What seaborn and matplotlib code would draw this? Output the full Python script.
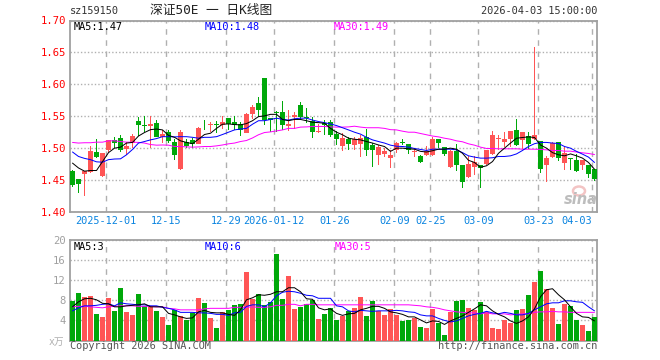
import numpy as np
import pandas as pd
import seaborn as sns
import matplotlib.pyplot as plt
from matplotlib.patches import Ellipse

opens = [1.4646, 1.452, 1.460, 1.4625, 1.494, 1.4568, 1.497, 1.513, 1.516, 1.499,
         1.508, 1.543, 1.537, 1.535, 1.5396, 1.5177, 1.5255, 1.51, 1.4677, 1.51,
         1.513, 1.5068, 1.535, 1.536, 1.538, 1.536, 1.5474, 1.541, 1.538, 1.524,
         1.5536, 1.5708, 1.61, 1.5469, 1.5565, 1.5567, 1.535, 1.5495, 1.5677, 1.5485,
         1.542, 1.525, 1.54, 1.541, 1.5224, 1.5036, 1.5146, 1.505, 1.5068, 1.5177,
         1.505, 1.4896, 1.491, 1.485, 1.4974, 1.5094, 1.5068, 1.4937, 1.488, 1.4896,
         1.4896, 1.5146, 1.502, 1.4708, 1.4958, 1.474, 1.455, 1.471, 1.474, 1.4755,
         1.491, 1.5146, 1.51, 1.5146, 1.5286, 1.513, 1.519, 1.5146, 1.5115, 1.474,
         1.4865, 1.51, 1.477, 1.484, 1.482, 1.474, 1.473, 1.4677]
closes = [1.4427, 1.444, 1.4646, 1.496, 1.4865, 1.4927, 1.513, 1.508, 1.497, 1.5036,
          1.519, 1.536, 1.535, 1.538, 1.5177, 1.5224, 1.5115, 1.4896, 1.5255, 1.5036,
          1.5068, 1.5318, 1.534, 1.538, 1.536, 1.541, 1.5375, 1.536, 1.5286, 1.5536,
          1.5646, 1.56, 1.544, 1.5443, 1.5555, 1.5365, 1.538, 1.5516, 1.549, 1.547,
          1.5255, 1.527, 1.5365, 1.521, 1.5146, 1.516, 1.5068, 1.5146, 1.516, 1.4974,
          1.4974, 1.502, 1.4958, 1.4896, 1.508, 1.5088, 1.4964, 1.4945, 1.4786, 1.4958,
          1.5146, 1.5083, 1.491, 1.4958, 1.474, 1.447, 1.4755, 1.4786, 1.4688, 1.4974,
          1.521, 1.5156, 1.5146, 1.527, 1.505, 1.5255, 1.5068, 1.521, 1.468, 1.485,
          1.508, 1.485, 1.4927, 1.4835, 1.4646, 1.482, 1.46, 1.452]
highs = [1.466, 1.452, 1.465, 1.5036, 1.5146, 1.493, 1.5135, 1.517, 1.521, 1.51,
         1.522, 1.5495, 1.55, 1.55, 1.544, 1.5286, 1.5286, 1.5146, 1.5286, 1.5146,
         1.5156, 1.533, 1.544, 1.541, 1.543, 1.5505, 1.5474, 1.55, 1.541, 1.5547,
         1.568, 1.5807, 1.61, 1.547, 1.559, 1.574, 1.56, 1.557, 1.572, 1.563,
         1.5484, 1.5375, 1.544, 1.544, 1.527, 1.5234, 1.518, 1.518, 1.521, 1.53,
         1.508, 1.505, 1.5005, 1.497, 1.5104, 1.515, 1.5068, 1.50, 1.49, 1.5036,
         1.518, 1.5146, 1.502, 1.4974, 1.507, 1.474, 1.487, 1.487, 1.474, 1.4974,
         1.527, 1.521, 1.5255, 1.527, 1.546, 1.5255, 1.5255, 1.658, 1.5115, 1.488,
         1.51, 1.51, 1.502, 1.485, 1.491, 1.482, 1.473, 1.4677]
lows = [1.439, 1.430, 1.4245, 1.4615, 1.485, 1.455, 1.494, 1.50, 1.494, 1.49,
        1.50, 1.519, 1.526, 1.50, 1.5177, 1.508, 1.508, 1.482, 1.466, 1.50,
        1.50, 1.506, 1.5286, 1.5255, 1.5234, 1.53, 1.5286, 1.5286, 1.519, 1.5234,
        1.546, 1.5495, 1.5365, 1.525, 1.526, 1.5286, 1.5276, 1.53, 1.545, 1.54,
        1.516, 1.5234, 1.521, 1.517, 1.505, 1.496, 1.497, 1.497, 1.4865, 1.488,
        1.471, 1.474, 1.4865, 1.469, 1.4927, 1.505, 1.491, 1.4865, 1.4766, 1.488,
        1.488, 1.50, 1.487, 1.469, 1.4646, 1.438, 1.4536, 1.458, 1.438, 1.474,
        1.4896, 1.4974, 1.5026, 1.5026, 1.5036, 1.499, 1.499, 1.513, 1.4615, 1.4474,
        1.485, 1.48, 1.466, 1.466, 1.463, 1.466, 1.4536, 1.449]

ma5 = [1.4766, 1.469, 1.464, 1.465, 1.465, 1.479, 1.493, 1.50, 1.5016, 1.508,
       1.509, 1.519, 1.5245, 1.529, 1.53, 1.5286, 1.52, 1.517, 1.5115, 1.509,
       1.507, 1.514, 1.5214, 1.5234, 1.531, 1.5375, 1.538, 1.537, 1.5365, 1.5385,
       1.543, 1.5495, 1.5505, 1.553, 1.553, 1.545, 1.543, 1.545, 1.545, 1.543,
       1.5406, 1.54, 1.539, 1.531, 1.525, 1.521, 1.5156, 1.514, 1.513, 1.5104,
       1.508, 1.505, 1.5026, 1.495, 1.50, 1.50, 1.499, 1.4984, 1.495, 1.494,
       1.496, 1.4984, 1.4984, 1.50, 1.4984, 1.492, 1.481, 1.4776, 1.47, 1.4724,
       1.479, 1.492, 1.50, 1.508, 1.5156, 1.5167, 1.5177, 1.5167, 1.505, 1.50,
       1.493, 1.4896, 1.488, 1.491, 1.488, 1.4844, 1.4776, 1.467]
ma10 = [1.494, 1.487, 1.484, 1.482, 1.4786, 1.478, 1.482, 1.483, 1.4833, 1.4896,
        1.498, 1.508, 1.5104, 1.513, 1.515, 1.518, 1.518, 1.5177, 1.518, 1.518,
        1.517, 1.5156, 1.517, 1.517, 1.518, 1.5214, 1.525, 1.5286, 1.53, 1.531,
        1.5375, 1.543, 1.543, 1.545, 1.547, 1.545, 1.544, 1.546, 1.547, 1.547,
        1.544, 1.5417, 1.54, 1.538, 1.5354, 1.532, 1.5286, 1.525, 1.522, 1.517,
        1.513, 1.5104, 1.508, 1.5047, 1.503, 1.5026, 1.5016, 1.4995, 1.498, 1.4964,
        1.4984, 1.4984, 1.4984, 1.4984, 1.4974, 1.493, 1.488, 1.486, 1.4844, 1.4844,
        1.485, 1.487, 1.487, 1.488, 1.491, 1.4964, 1.5026, 1.507, 1.509, 1.509,
        1.508, 1.5073, 1.5026, 1.50, 1.495, 1.4906, 1.486, 1.4776]
ma30 = [1.509, 1.508, 1.5085, 1.5085, 1.5094, 1.5094, 1.5115, 1.5115, 1.5104, 1.5094,
        1.5094, 1.509, 1.508, 1.5057, 1.5047, 1.505, 1.5047, 1.5026, 1.5026, 1.502,
        1.5016, 1.502, 1.5026, 1.5026, 1.5036, 1.505, 1.5068, 1.508, 1.5104, 1.512,
        1.516, 1.521, 1.5245, 1.5255, 1.527, 1.5286, 1.531, 1.531, 1.533, 1.5333,
        1.534, 1.534, 1.534, 1.5333, 1.533, 1.533, 1.5333, 1.5344, 1.533, 1.532,
        1.532, 1.532, 1.531, 1.529, 1.5286, 1.5266, 1.525, 1.525, 1.523, 1.521,
        1.519, 1.5177, 1.5156, 1.514, 1.5115, 1.51, 1.5068, 1.5047, 1.5016, 1.4995,
        1.4995, 1.499, 1.499, 1.499, 1.499, 1.4984, 1.4984, 1.4984, 1.498, 1.4974,
        1.4964, 1.4964, 1.4953, 1.4953, 1.494, 1.4927, 1.4917, 1.49]

volume = [7.9, 9.5, 8.7, 8.9, 5.3, 4.7, 8.5, 5.9, 10.5, 5.7,
          5.1, 9.3, 6.9, 6.7, 5.9, 4.7, 3.1, 6.1, 4.9, 4.1,
          5.5, 8.5, 7.5, 4.5, 2.5, 5.7, 6.1, 7.1, 7.3, 13.7,
          8.3, 9.3, 7.1, 7.7, 17.3, 8.3, 12.9, 6.3, 6.7, 7.2,
          8.1, 4.3, 5.3, 6.5, 4.1, 4.9, 5.9, 6.5, 8.7, 4.9,
          7.9, 5.9, 5.1, 6.3, 5.1, 3.9, 4.1, 4.5, 2.7, 2.5,
          6.3, 3.5, 1.1, 5.7, 7.9, 8.1, 6.5, 6.1, 7.7, 5.7,
          2.5, 2.3, 4.1, 3.5, 6.1, 6.3, 9.1, 11.7, 13.9, 10.3,
          6.5, 3.3, 7.3, 6.9, 4.1, 3.1, 1.9, 4.7]
vol_ma5 = [6.7, 7.7, 8.3, 8.4, 8.1, 7.4, 7.3, 6.7, 6.7, 6.9,
           7.0, 7.1, 7.3, 6.7, 6.7, 6.7, 5.4, 5.1, 4.7, 4.4,
           4.5, 5.7, 6.0, 5.6, 5.5, 5.5, 5.2, 5.0, 6.1, 8.1,
           8.5, 9.1, 9.0, 9.2, 9.7, 9.7, 10.5, 10.5, 9.7, 8.3,
           8.2, 6.5, 6.1, 6.3, 5.4, 5.0, 5.3, 5.4, 6.1, 6.4,
           6.8, 6.8, 6.4, 5.7, 5.5, 5.2, 4.7, 4.7, 4.1, 3.5,
           3.9, 3.8, 3.2, 3.9, 4.4, 4.9, 5.6, 6.3, 7.1, 6.9,
           5.9, 5.2, 4.7, 3.9, 3.4, 3.9, 4.7, 6.3, 8.7, 10.1,
           10.3, 9.1, 8.1, 6.7, 5.4, 4.7, 4.6, 3.9]
vol_ma10 = [5.9, 6.5, 6.9, 6.9, 7.0, 7.2, 7.3, 6.9, 7.5, 7.3,
            7.2, 7.1, 7.1, 6.9, 6.9, 6.6, 6.4, 6.1, 5.6, 5.6,
            5.6, 5.5, 5.5, 5.4, 5.2, 5.2, 5.0, 5.5, 5.6, 6.8,
            7.1, 7.1, 6.7, 7.5, 8.9, 9.6, 9.8, 9.7, 9.4, 9.0,
            8.9, 8.4, 8.4, 8.4, 6.9, 6.7, 5.9, 5.7, 6.0, 5.9,
            5.8, 5.9, 5.9, 5.9, 6.0, 5.9, 5.7, 5.6, 5.1, 4.9,
            4.9, 4.4, 4.0, 3.7, 3.9, 4.4, 4.9, 5.2, 5.4, 5.8,
            5.5, 5.3, 5.6, 5.4, 5.1, 5.1, 5.4, 6.1, 6.7, 7.3,
            7.5, 7.5, 7.9, 7.9, 7.7, 7.6, 6.7, 5.9]
vol_ma30 = [6.7, 6.8, 6.8, 6.7, 6.6, 6.5, 6.7, 6.8, 6.9, 6.9,
            6.9, 6.8, 6.8, 6.8, 6.7, 6.7, 6.4, 6.3, 6.1, 6.1,
            6.1, 6.1, 6.3, 6.4, 6.4, 6.4, 6.4, 6.6, 6.6, 6.6,
            6.7, 6.6, 6.6, 6.7, 7.0, 7.0, 7.2, 7.2, 6.9, 7.2,
            7.2, 7.1, 7.1, 7.1, 7.1, 7.1, 7.1, 7.1, 7.1, 7.1,
            7.1, 7.1, 7.1, 7.1, 7.1, 7.1, 7.1, 7.0, 6.9, 6.7,
            6.6, 6.4, 6.1, 5.9, 5.7, 5.6, 5.5, 5.5, 5.3, 5.5,
            5.3, 5.3, 5.3, 5.1, 5.2, 5.3, 5.3, 5.6, 5.7, 5.7,
            5.8, 5.7, 5.7, 5.6, 5.6, 5.6, 5.6, 5.6]

date_labels = ["2025-12-01", "12-15", "12-29", "2026-01-12", "01-26",
               "02-09", "02-25", "03-09", "03-23", "04-03"]
date_bars = [6, 16, 26, 34, 44, 54, 60, 68, 78, 87]
price_ticks = [1.40, 1.45, 1.50, 1.55, 1.60, 1.65, 1.70]
vol_ticks = [4, 8, 12, 16, 20]

RED = "#ff5555"
GREEN = "#00a80a"
BORDER = "#a0a0a0"
MONO = "DejaVu Sans Mono"
W, H = 660, 360

sns.set_theme(style="white")
plt.rcParams["font.family"] = [MONO, "Noto Sans CJK SC"]

fig = plt.figure(figsize=(W / 100, H / 100), dpi=100, facecolor="white")
ax_p = fig.add_axes([70 / W, (H - 212) / H, 527 / W, 191.5 / H])
ax_v = fig.add_axes([70 / W, (H - 340.5) / H, 527 / W, 100.5 / H])

bars = np.arange(len(opens))
up = np.array(closes) >= np.array(opens)
colors = [RED if u else GREEN for u in up]
grid_x = np.array(date_bars) - 0.37

# candles: wicks are one pixel wide bars so they keep their full colour
ax_p.bar(bars, np.array(highs) - np.array(lows), bottom=lows, width=1 / 6,
         color=colors, linewidth=0, antialiased=False, zorder=3)
ax_p.bar(bars, np.maximum(np.abs(np.array(closes) - np.array(opens)), 0.0012),
         bottom=np.minimum(opens, closes), width=0.8,
         color=colors, linewidth=0, antialiased=False, zorder=4)

df = pd.DataFrame({"bar": bars, "MA5": ma5, "MA10": ma10, "MA30": ma30})
for name, c in [("MA30", "#ff00ff"), ("MA10", "#0000ff"), ("MA5", "#000000")]:
    sns.lineplot(data=df, x="bar", y=name, ax=ax_p, color=c, lw=0.72, zorder=5)

# volume
vol_df = pd.DataFrame({"bar": bars, "vol": volume, "kind": ["up" if u else "down" for u in up],
                       "MA5": vol_ma5, "MA10": vol_ma10, "MA30": vol_ma30})
sns.barplot(data=vol_df, x="bar", y="vol", hue="kind", palette={"up": RED, "down": GREEN},
            native_scale=True, width=0.8, dodge=False, legend=False, saturation=1,
            linewidth=0, antialiased=False, ax=ax_v, zorder=3)
for name, c in [("MA30", "#ff00ff"), ("MA10", "#0000ff"), ("MA5", "#000000")]:
    sns.lineplot(data=vol_df, x="bar", y=name, ax=ax_v, color=c, lw=0.72, zorder=5)

ax_p.set_ylim(1.40, 1.70)
ax_v.set_ylim(0, 20)
for ax in (ax_p, ax_v):
    ax.set_xlim(-2.5 / 6, 524.5 / 6)
    ax.set_xlabel("")
    ax.set_ylabel("")
    ax.set_xticks(grid_x)
    ax.xaxis.grid(True, color="#b0b0b0", ls=(0, (4, 4)), lw=1.0, zorder=0)
    ax.yaxis.grid(True, color="#b0b0b0", ls=(0, (1, 1.5)), lw=1.0, zorder=0)
    ax.set_axisbelow(True)
    ax.tick_params(length=0, pad=3)
    for s in ax.spines.values():
        s.set_visible(True)
        s.set_color(BORDER)
        s.set_linewidth(1.3)

ax_p.set_yticks(price_ticks)
ax_p.set_yticklabels([f"{p:.2f}" for p in price_ticks], color="#ff0000", fontsize=7.6)
ax_v.set_yticks(vol_ticks)
ax_v.set_yticklabels([str(v) for v in vol_ticks], color="#a0a0a0", fontsize=7.6)
ax_v.set_xticklabels([])

ax_p.set_xticklabels(date_labels, color="#0a84e0", fontsize=7.4)
ax_p.get_xticklabels()[-1].set_ha("right")


def label(x, y, s, color="#000000", size=7.4, ha="left", **kw):
    fig.text(x / W, 1 - y / H, s, color=color, fontsize=size, ha=ha, va="center", **kw)


label(70, 11, "sz159150", "#333333")
label(150, 10, "深证50E 一 日K线图", "#222222", 9.2,
      family=[MONO, "Noto Sans CJK SC"])
label(597, 11, "2026-04-03 15:00:00", "#333333", ha="right")

label(74, 27, "MA5:1.47")
label(205, 27, "MA10:1.48", "#0000ff")
label(334, 27, "MA30:1.49", "#ff00ff")
label(74, 247, "MA5:3")
label(205, 247, "MA10:6", "#0000ff")
label(335, 247, "MA30:5", "#ff00ff")

label(49, 342, "x万", "#b0b0b0", 7.0)
label(70, 346, "Copyright 2026 SINA.COM", "#555555")
label(597, 346, "http://finance.sina.com.cn", "#555555", ha="right")

# sina mark, bottom right of the price panel
fig.add_artist(Ellipse((579 / W, 1 - 191 / H), 12 / W, 9 / H, transform=fig.transFigure,
                       fc="none", ec="#f3c4c4", lw=1.8, zorder=6))
label(581, 200, "sina", "#bdbdbd", 10.5, ha="center", family="DejaVu Sans",
      fontweight="bold", fontstyle="italic", zorder=7)

fig.savefig("out.png", dpi=100)
